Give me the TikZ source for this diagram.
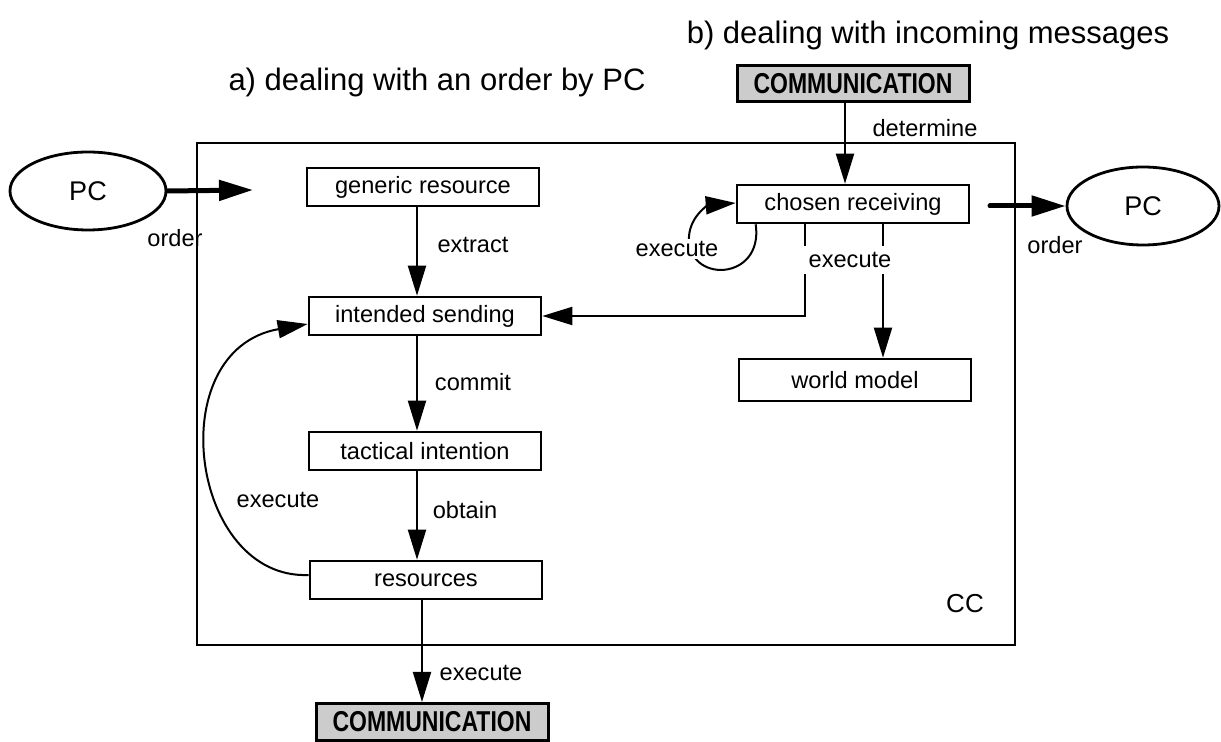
\documentclass[tikz,border=0pt]{standalone}
\usepackage{fontspec}
\usepackage{graphicx}
\setmainfont{Liberation Sans}
\usetikzlibrary{arrows.meta,calc,shapes.geometric}

\begin{document}
\begin{tikzpicture}[x=0.5pt,y=-0.5pt,
  box/.style={draw,line width=1.3pt,fill=white,minimum width=116pt,minimum height=19pt,
    inner sep=0pt,font=\fontsize{11.8}{14}\selectfont},
  comm/.style={draw,line width=1.5pt,fill=gray!40,minimum width=116pt,minimum height=18pt,
    inner sep=0pt,font=\bfseries\fontsize{11.5}{14}\selectfont},
  pc/.style={draw,ellipse,line width=1.4pt,minimum width=78pt,minimum height=39pt,
    inner sep=0pt,font=\fontsize{13.5}{16}\selectfont},
  lbl/.style={font=\fontsize{11.8}{14}\selectfont,inner sep=1pt},
  ttl/.style={font=\fontsize{15.5}{18}\selectfont,inner sep=0pt},
  conn/.style={line width=1pt,-{Triangle[length=15pt,width=9pt]}},
  heavy/.style={line width=2.5pt,line cap=round,-{Triangle[length=17pt,width=10pt]}}
]
\useasboundingbox (0,0) rectangle (1221,742);

% headings
\node[ttl] (tb) at (928,35) {b) dealing with incoming messages};
\node[ttl] (ta) at (437,82) {a) dealing with an order by PC};

% label partly hidden by the frame
\node[lbl] (ordL) at (175,238) {order};

% CC frame
\node[draw,line width=1pt,minimum width=409pt,minimum height=251pt,inner sep=0pt] (cc) at (606,394) {};
\node[lbl,font=\fontsize{13}{15}\selectfont] (cclbl) at (965,604) {CC};

% nodes
\node[pc] (pcL) at (88,191) {PC};
\node[pc,minimum width=76pt] (pcR) at (1143,206) {PC};

\node[comm] (comT) at (853,84) {\scalebox{1}[1.25]{COMMUNICATION}};
\node[comm,minimum height=18.5pt] (comB) at (432,722) {\scalebox{1}[1.25]{COMMUNICATION}};

\node[box] (gr) at (423,187) {generic resource};
\node[box] (is) at (425,316) {intended sending};
\node[box] (ti) at (425,451) {tactical intention};
\node[box] (res) at (426,580) {resources};
\node[box] (cr) at (853,204) {chosen receiving};
\node[box,minimum height=21pt] (wm) at (855,380) {world model};

% columns of the vertical connectors
\coordinate (cA) at (417,0);
\coordinate (cB) at (422,0);
\coordinate (cD) at (845,0);
\coordinate (cE) at (805,0);
\coordinate (cF) at (883,0);
\coordinate (inL) at (253,190);
\coordinate (outR) at (990,206);

% connectors
\draw[heavy] (pcL.east) -- (inL);
\draw[heavy] (outR) -- (pcR.west);
\draw[conn] (comT.south -| cD) -- (cr.north -| cD);
\draw[conn] (gr.south -| cA) -- (is.north -| cA);
\draw[conn] (is.south -| cA) -- (ti.north -| cA);
\draw[conn] (ti.south -| cA) -- (res.north -| cA);
\draw[conn] (res.south -| cB) -- (comB.north -| cB);
\draw[conn] (cr.south -| cE) |- (is.east);
\draw[conn] (cr.south -| cF) -- (wm.north -| cF);
\draw[conn] ($(res.west)+(0,-5)$) .. controls (190,580) and (160,350) .. ($(is.west)+(0,8)$);
\draw[conn] ($(cr.south west)+(20,0)$) .. controls (764,282) and (686,284) .. (689,236)
  .. controls (691,214) and (710,205) .. ($(cr.west)+(0,-1)$);

% connector labels
\node[lbl] (lDet) at (925,128) {determine};
\node[lbl] (lExt) at (473,245) {extract};
\node[lbl] (lCom) at (473,382) {commit};
\node[lbl] (lObt) at (465,510) {obtain};
\node[lbl] (lEx1) at (278,500) {execute};
\node[lbl] (lEx2) at (481,673) {execute};
\node[lbl,fill=white] (lEx3) at (677,249) {execute};
\node[lbl,fill=white,inner xsep=5pt,inner ysep=3pt] (lEx4) at (850,260) {execute};
\node[lbl] (ordR) at (1055,245) {order};
\end{tikzpicture}
\end{document}
